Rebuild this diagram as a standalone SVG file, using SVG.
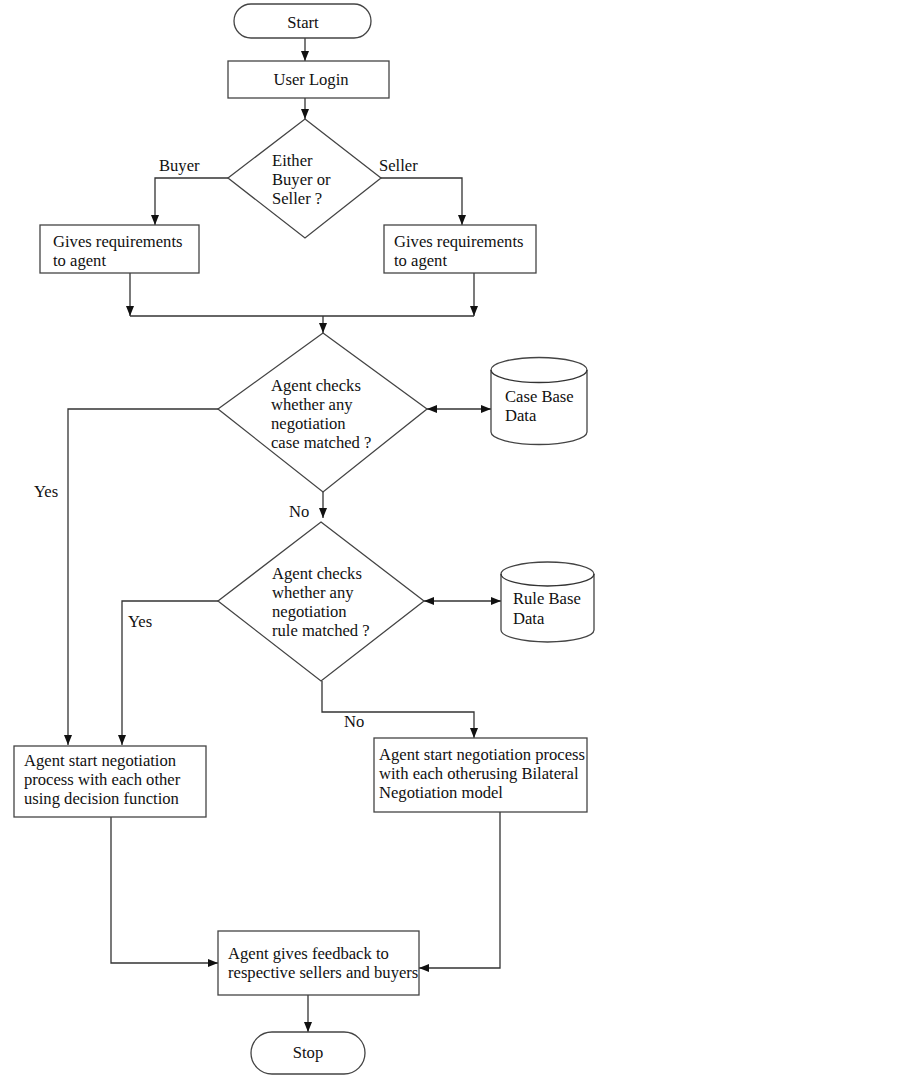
<svg xmlns="http://www.w3.org/2000/svg" width="902" height="1076" viewBox="0 0 902 1076">
<defs>
<style>
.s{fill:#fff;stroke:#444;stroke-width:1.3}
.c{fill:none;stroke:#333;stroke-width:1.3}
text{font-family:"Liberation Serif","Times New Roman",serif;font-size:16.6px;fill:#111}
.m{text-anchor:middle}
</style>
<marker id="a" markerUnits="userSpaceOnUse" markerWidth="10" markerHeight="10" viewBox="0 0 10 10" refX="10" refY="5" orient="auto-start-reverse">
<path d="M0,1 L10,5 L0,9 Z" fill="#111"/>
</marker>
</defs>
<rect width="902" height="1076" fill="#fff"/>

<g id="connectors">
<line class="c" x1="305" y1="38" x2="305" y2="61" marker-end="url(#a)"/>
<line class="c" x1="305" y1="98" x2="305" y2="119" marker-end="url(#a)"/>
<polyline class="c" points="228,178 155,178 155,225" marker-end="url(#a)"/>
<polyline class="c" points="381,178 462,178 462,225" marker-end="url(#a)"/>
<line class="c" x1="130" y1="273" x2="130" y2="316" marker-end="url(#a)"/>
<line class="c" x1="474" y1="273" x2="474" y2="316" marker-end="url(#a)"/>
<line class="c" x1="130" y1="316" x2="474" y2="316"/>
<line class="c" x1="323" y1="316" x2="323" y2="333" marker-end="url(#a)"/>
<line class="c" x1="427" y1="409" x2="491" y2="409" marker-start="url(#a)" marker-end="url(#a)"/>
<polyline class="c" points="218,409 68,409 68,745" marker-end="url(#a)"/>
<line class="c" x1="323" y1="492" x2="323" y2="518" marker-end="url(#a)"/>
<line class="c" x1="424" y1="601" x2="501" y2="601" marker-start="url(#a)" marker-end="url(#a)"/>
<polyline class="c" points="218,601 122,601 122,745" marker-end="url(#a)"/>
<polyline class="c" points="322,681 322,712 474,712 474,738" marker-end="url(#a)"/>
<polyline class="c" points="111,817 111,963 218,963" marker-end="url(#a)"/>
<polyline class="c" points="500,812 500,968 419,968" marker-end="url(#a)"/>
<line class="c" x1="308" y1="995" x2="308" y2="1032" marker-end="url(#a)"/>
<text x="159" y="171">Buyer</text>
<text x="379" y="171">Seller</text>
<text x="34" y="497">Yes</text>
<text x="289" y="517">No</text>
<text x="128" y="627">Yes</text>
<text x="344" y="727">No</text>
</g>

<g id="start">
<rect class="s" x="234" y="4" width="137" height="34" rx="17"/>
<text class="m" x="303" y="28">Start</text>
</g>

<g id="login">
<rect class="s" x="228" y="61" width="161" height="37"/>
<text class="m" x="311" y="85">User Login</text>
</g>

<g id="decision1">
<polygon class="s" points="305,119 381,178 305,238 228,178"/>
<text x="272" y="166">Either</text>
<text x="272" y="185">Buyer or</text>
<text x="272" y="204">Seller ?</text>
</g>

<g id="buyer-req">
<rect class="s" x="40" y="225" width="159" height="48"/>
<text x="53" y="247">Gives requirements</text>
<text x="53" y="266">to agent</text>
</g>

<g id="seller-req">
<rect class="s" x="384" y="225" width="152" height="48"/>
<text x="394" y="247">Gives requirements</text>
<text x="394" y="266">to agent</text>
</g>

<g id="decision-case">
<polygon class="s" points="323,333 427,409 323,492 218,409"/>
<text x="271" y="391">Agent checks</text>
<text x="271" y="410">whether any</text>
<text x="271" y="429">negotiation</text>
<text x="271" y="448">case matched ?</text>
</g>

<g id="case-base">
<path class="s" d="M491,370 A48,12.5 0 0 1 587,370 L587,432 A48,12.5 0 0 1 491,432 Z"/>
<path class="c" d="M491,370 A48,12.5 0 0 0 587,370"/>
<text x="505" y="402">Case Base</text>
<text x="505" y="421">Data</text>
</g>

<g id="decision-rule">
<polygon class="s" points="321,522 424,601 321,681 218,601"/>
<text x="272" y="579">Agent checks</text>
<text x="272" y="598">whether any</text>
<text x="272" y="617">negotiation</text>
<text x="272" y="636">rule matched ?</text>
</g>

<g id="rule-base">
<path class="s" d="M501,574 A46.5,12 0 0 1 594,574 L594,630 A46.5,12 0 0 1 501,630 Z"/>
<path class="c" d="M501,574 A46.5,12 0 0 0 594,574"/>
<text x="513" y="604">Rule Base</text>
<text x="513" y="624">Data</text>
</g>

<g id="decision-function">
<rect class="s" x="14" y="746" width="192" height="71"/>
<text x="24" y="766">Agent start negotiation</text>
<text x="24" y="785">process with each other</text>
<text x="24" y="804">using decision function</text>
</g>

<g id="bilateral">
<rect class="s" x="374" y="738" width="213" height="74"/>
<text x="379" y="760">Agent start negotiation process</text>
<text x="379" y="779">with each otherusing Bilateral</text>
<text x="379" y="798">Negotiation model</text>
</g>

<g id="feedback">
<rect class="s" x="218" y="931" width="201" height="64"/>
<text x="228" y="959">Agent gives feedback to</text>
<text x="228" y="978">respective sellers and buyers</text>
</g>

<g id="stop">
<rect class="s" x="251" y="1032" width="114" height="42" rx="21"/>
<text class="m" x="308" y="1058">Stop</text>
</g>
</svg>
